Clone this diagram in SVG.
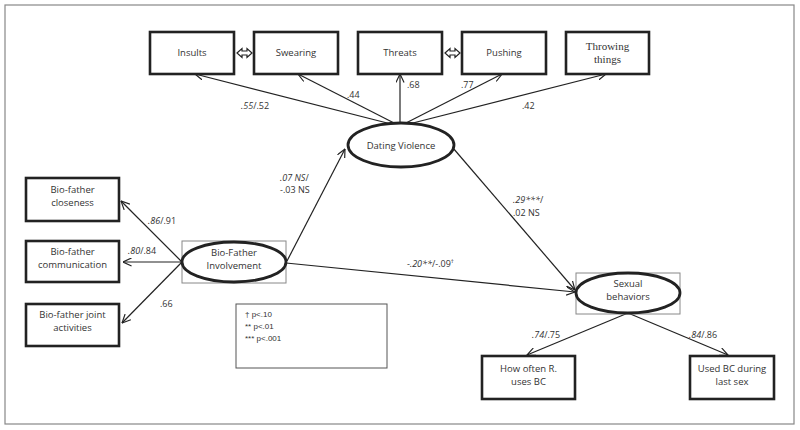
<svg xmlns="http://www.w3.org/2000/svg" width="800" height="430" viewBox="0 0 800 430">
<defs>
<marker id="ah" viewBox="0 0 10 10" refX="9.5" refY="5" markerWidth="9" markerHeight="9" markerUnits="userSpaceOnUse" orient="auto">
<path d="M0,0.5 L9.5,5 L0,9.5" fill="none" stroke="#222" stroke-width="1.3"/>
</marker>
<style>
.box{fill:#fff;stroke:#222;stroke-width:2.6}
.ell{fill:#fff;stroke:#222;stroke-width:2.8}
.frame{fill:none;stroke:#888;stroke-width:1}
.t{font-family:"Open Sans","Liberation Sans",sans-serif;font-size:9.5px;fill:#333;text-anchor:middle}
.ts{font-family:"Liberation Serif","DejaVu Serif",serif;font-size:11px;fill:#333;text-anchor:middle}
.lab{font-family:"Open Sans","Liberation Sans",sans-serif;font-size:9px;fill:#333}
.leg{font-family:"Liberation Sans",Arial,sans-serif;font-size:8px;fill:#333}
.conn line{stroke:#222;stroke-width:1.2;marker-end:url(#ah)}
.dbl{fill:#fff;stroke:#222;stroke-width:1.2}
</style>
</defs>
<rect x="5" y="5" width="789" height="419" fill="#fff" stroke="#888" stroke-width="1.2"/>

<g id="conns" class="conn">
<line x1="395" y1="125" x2="195" y2="74"/>
<line x1="396" y1="124" x2="298" y2="74"/>
<line x1="400" y1="123" x2="400" y2="74"/>
<line x1="404" y1="124" x2="502" y2="74"/>
<line x1="405" y1="125" x2="606" y2="74"/>
<line x1="182" y1="262" x2="121" y2="201"/>
<line x1="182" y1="262" x2="123" y2="262"/>
<line x1="182" y1="262" x2="122" y2="323"/>
<line x1="287" y1="261" x2="345" y2="149"/>
<line x1="453" y1="148" x2="575" y2="290"/>
<line x1="286" y1="263" x2="575" y2="292"/>
<line x1="628" y1="313" x2="527" y2="355"/>
<line x1="628" y1="313" x2="728" y2="355"/>
</g>

<g id="doubles">
<polygon class="dbl" points="237,53 242,48.5 242,51 247,51 247,48.5 252,53 247,57.5 247,55 242,55 242,57.5"/>
<polygon class="dbl" points="445,53 450,48.5 450,51 455,51 455,48.5 460,53 455,57.5 455,55 450,55 450,57.5"/>
</g>

<g id="insults"><rect class="box" x="150" y="32" width="84" height="42"/><text class="t" x="192" y="56">Insults</text></g>
<g id="swearing"><rect class="box" x="254" y="32" width="84" height="42"/><text class="t" x="296" y="56">Swearing</text></g>
<g id="threats"><rect class="box" x="358" y="32" width="84" height="42"/><text class="t" x="400" y="56">Threats</text></g>
<g id="pushing"><rect class="box" x="462" y="32" width="84" height="42"/><text class="t" x="504" y="56">Pushing</text></g>
<g id="throwing"><rect class="box" x="566" y="32" width="83" height="42"/><text class="ts" x="607.5" y="50">Throwing</text><text class="ts" x="607.5" y="63">things</text></g>

<g id="dating-violence"><ellipse class="ell" cx="401" cy="145" rx="53" ry="22"/><text class="t" x="401" y="148.5">Dating Violence</text></g>

<g id="closeness"><rect class="box" x="26" y="178" width="93" height="43"/><text class="t" x="72.5" y="193">Bio-father</text><text class="t" x="72.5" y="206">closeness</text></g>
<g id="communication"><rect class="box" x="26" y="241" width="93" height="41"/><text class="t" x="72.5" y="255">Bio-father</text><text class="t" x="72.5" y="268">communication</text></g>
<g id="joint"><rect class="box" x="26" y="304" width="93" height="42"/><text class="t" x="72.5" y="318">Bio-father joint</text><text class="t" x="72.5" y="331">activities</text></g>

<g id="bio-father"><rect class="frame" x="182" y="241" width="104" height="42"/><ellipse class="ell" cx="234" cy="262" rx="52" ry="20"/><text class="t" x="234" y="256">Bio-Father</text><text class="t" x="234" y="269">Involvement</text></g>

<g id="sexual"><rect class="frame" x="576" y="273" width="104" height="41"/><ellipse class="ell" cx="628" cy="293" rx="52" ry="20"/><text class="t" x="628" y="287">Sexual</text><text class="t" x="628" y="300">behaviors</text></g>

<g id="howoften"><rect class="box" x="482" y="356" width="93" height="43"/><text class="t" x="528.5" y="372">How often R.</text><text class="t" x="528.5" y="385">uses BC</text></g>
<g id="usedbc"><rect class="box" x="690" y="356" width="84" height="43"/><text class="t" x="732" y="372">Used BC during</text><text class="t" x="732" y="385">last sex</text></g>

<g id="legend"><rect x="236" y="304" width="151" height="64" fill="#fff" stroke="#555" stroke-width="1"/>
<text class="leg" x="245" y="317">† p&lt;.10</text>
<text class="leg" x="245" y="329">** p&lt;.01</text>
<text class="leg" x="245" y="341">*** p&lt;.001</text></g>

<g id="labels">
<text class="lab" x="241" y="109"><tspan font-style="italic">.55</tspan>/.52</text>
<text class="lab" x="347" y="98">.44</text>
<text class="lab" x="407" y="88">.68</text>
<text class="lab" x="461" y="88">.77</text>
<text class="lab" x="522" y="109">.42</text>
<text class="lab" x="148" y="224"><tspan font-style="italic">.86</tspan>/.91</text>
<text class="lab" x="128" y="254"><tspan font-style="italic">.80</tspan>/.84</text>
<text class="lab" x="160" y="307">.66</text>
<text class="lab" x="280" y="181"><tspan font-style="italic">.07 NS</tspan>/</text>
<text class="lab" x="280" y="193">-.03 NS</text>
<text class="lab" x="513" y="203"><tspan font-style="italic">.29***</tspan>/</text>
<text class="lab" x="513" y="216">.02 NS</text>
<text class="lab" x="407" y="267">-<tspan font-style="italic">.20**</tspan>/-.09<tspan font-size="6" dy="-4">†</tspan></text>
<text class="lab" x="532" y="338"><tspan font-style="italic">.74</tspan>/.75</text>
<text class="lab" x="689" y="338"><tspan font-style="italic">.84</tspan>/.86</text>
</g>
</svg>
